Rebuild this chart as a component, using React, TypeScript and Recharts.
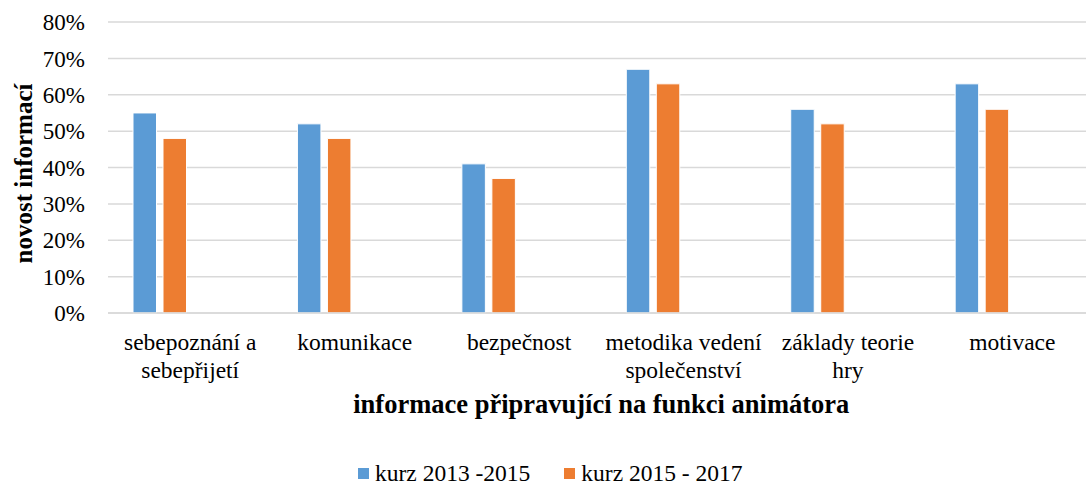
import React from "react";
import { BarChart, Bar, XAxis, YAxis, CartesianGrid, Legend } from "recharts";

const categories = [
  "sebepoznání a\nsebepřijetí",
  "komunikace",
  "bezpečnost",
  "metodika vedení\nspolečenství",
  "základy teorie\nhry",
  "motivace",
];
const kurz2013_2015 = [55, 52, 41, 67, 56, 63];
const kurz2015_2017 = [48, 48, 37, 63, 52, 56];
const yTicks = [0, 10, 20, 30, 40, 50, 60, 70, 80];
const seriesNames = ["kurz 2013 -2015", "kurz 2015 - 2017"];
const colors = ["#5B9BD5", "#ED7D31"];

const data = categories.map((name, i) => ({
  name,
  a: kurz2013_2015[i] / 100,
  b: kurz2015_2017[i] / 100,
}));

const FONT = '"Liberation Serif", "Times New Roman", serif';

const XTick = (props: any) => {
  const { x, y, payload } = props;
  const lines = String(payload.value).split("\n");
  return (
    <text x={x} y={y} textAnchor="middle" fontFamily={FONT} fontSize={23.5} fill="#000">
      {lines.map((l, i) => (
        <tspan key={i} x={x} dy={i === 0 ? 29 : 27.5}>
          {l}
        </tspan>
      ))}
    </text>
  );
};

const LegendContent = () => (
  <div
    style={{
      display: "flex",
      alignItems: "center",
      paddingLeft: 358,
      height: 28,
      fontFamily: FONT,
      fontSize: 23.5,
      color: "#000",
      whiteSpace: "nowrap",
    }}
  >
    {seriesNames.map((n, i) => (
      <div key={n} style={{ display: "flex", alignItems: "center", marginRight: 34 }}>
        <span style={{ width: 11, height: 11, background: colors[i], display: "inline-block", marginRight: 6 }} />
        <span>{n}</span>
      </div>
    ))}
  </div>
);

export default function App() {
  return (
    <div style={{ position: "absolute", left: 0, top: 0, width: 1086, height: 487, overflow: "hidden", background: "#fff" }}>
      <BarChart
        width={1100}
        height={487}
        data={data}
        margin={{ top: 22, right: 5.4, left: 0, bottom: 0 }}
        barSize={23.5}
        barGap={6.5}
      >
        <CartesianGrid vertical={false} stroke="#D9D9D9" strokeWidth={1.5} />
        <XAxis
          dataKey="name"
          interval={0}
          height={146}
          tick={<XTick />}
          tickLine={false}
          axisLine={{ stroke: "#D9D9D9", strokeWidth: 1.5 }}
          label={{
            value: "informace připravující na funkci animátora",
            position: "insideTop",
            offset: 81,
            style: { fontFamily: FONT, fontSize: 26.5, fontWeight: "bold", fill: "#000" },
          }}
        />
        <YAxis
          width={108}
          domain={[0, 0.8]}
          ticks={yTicks.map((t) => t / 100)}
          tickFormatter={(v: number) => `${Math.round(v * 100)}%`}
          tickLine={false}
          axisLine={false}
          tickSize={21}
          tickMargin={2}
          tick={{ fontFamily: FONT, fontSize: 23, fill: "#000" }}
          label={{
            value: "novost informací",
            angle: -90,
            position: "center",
            dx: -31,
            dy: 6,
            style: { fontFamily: FONT, fontSize: 25, fontWeight: "bold", fill: "#000", textAnchor: "middle" },
          }}
        />
        <Legend verticalAlign="bottom" content={<LegendContent />} />
        <Bar dataKey="a" name={seriesNames[0]} fill={colors[0]} stroke="#fff" strokeWidth={1} isAnimationActive={false} />
        <Bar dataKey="b" name={seriesNames[1]} fill={colors[1]} stroke="#fff" strokeWidth={1} isAnimationActive={false} />
        <Bar dataKey="c" legendType="none" fill="#fff" isAnimationActive={false} />
        <Bar dataKey="d" legendType="none" fill="#fff" isAnimationActive={false} />
      </BarChart>
    </div>
  );
}
